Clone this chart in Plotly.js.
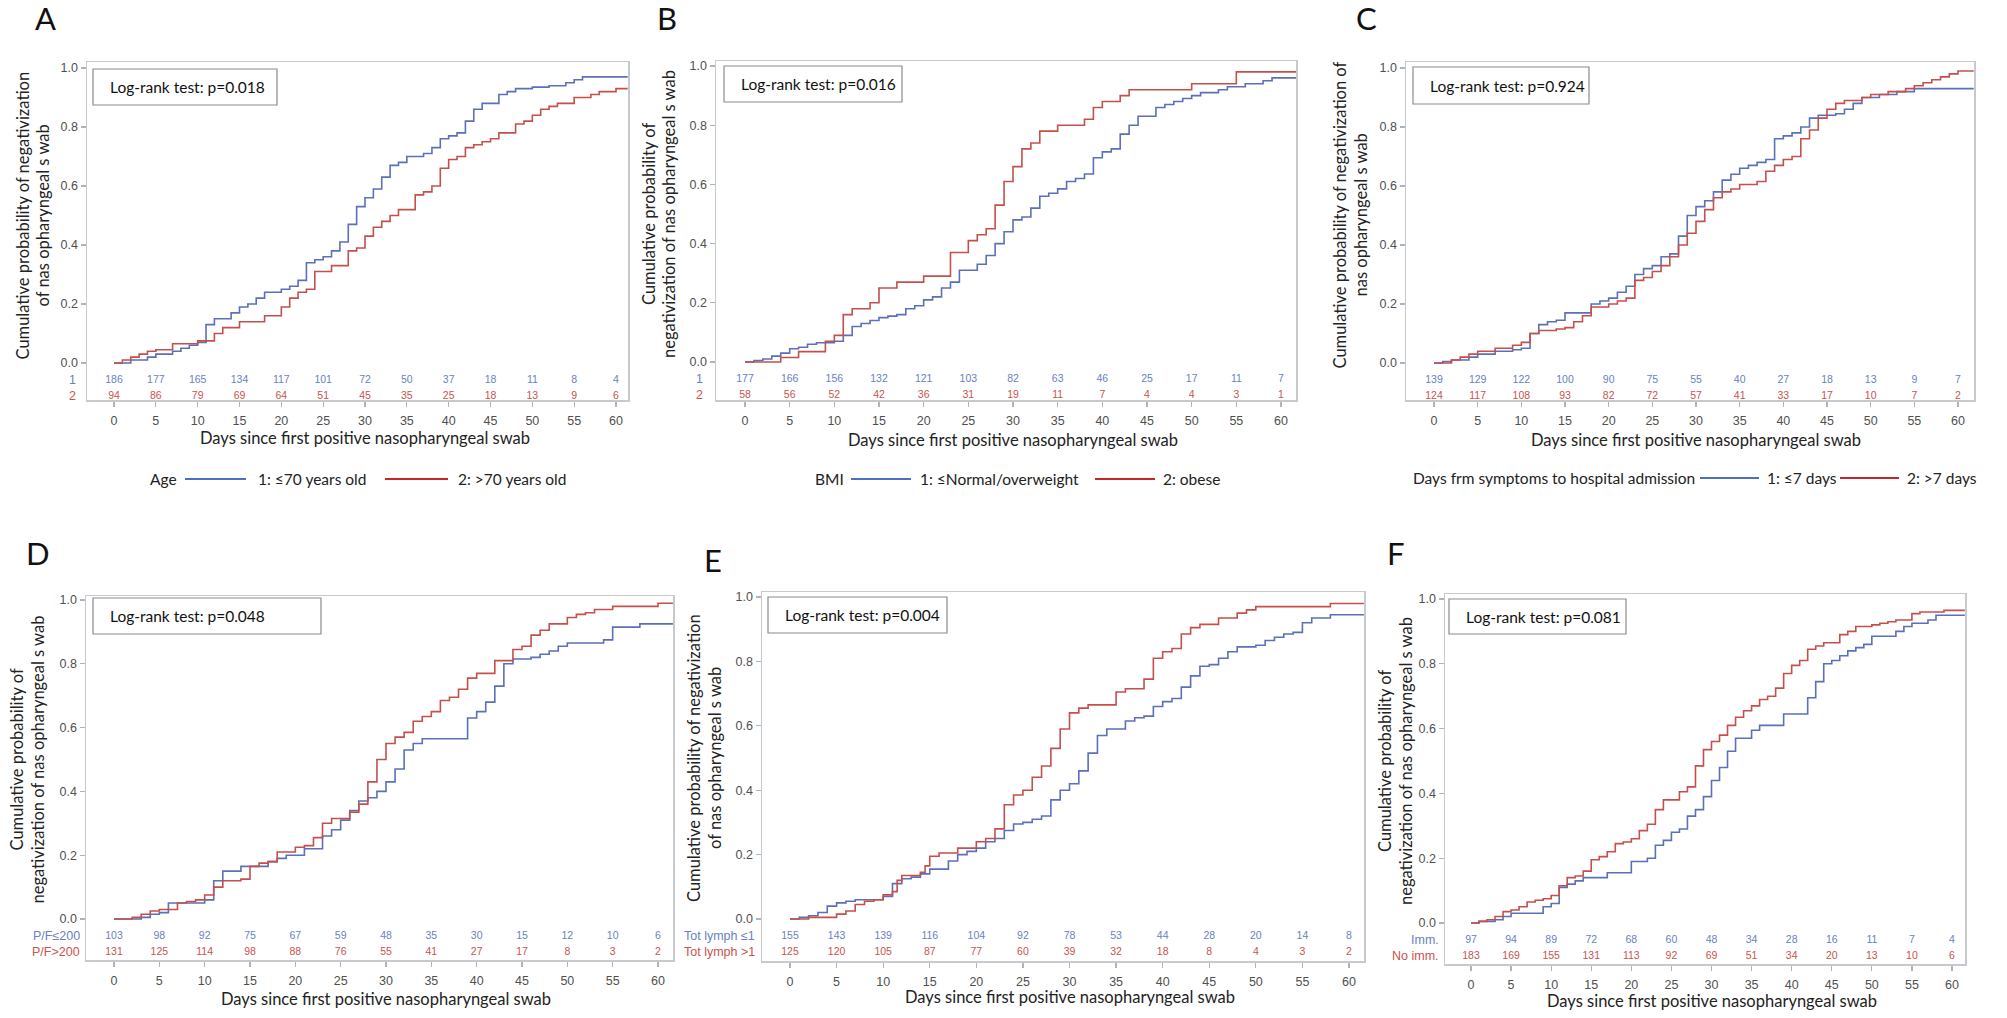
<!DOCTYPE html>
<html>
<head>
<meta charset="utf-8">
<script src="https://cdn.plot.ly/plotly-3.0.1.min.js"></script>
<style>html,body{margin:0;padding:0;background:#fff;}#chart{width:2007px;height:1018px;}</style>
</head>
<body>
<div id="chart"></div>
<script>
// ---------------- DATA ----------------
const dayTicks = [0,5,10,15,20,25,30,35,40,45,50,55,60];

// Panel A – Age
const aBlueT = [0,2,4,5,7,8,9,10,11,12,14,15,16,17,18,20,21,22,23,24,25,26,27,28,29,30,31,32,33,34,35,37,38,39,40,41,42,43,44,46,47,48,50,52,54,55,56,61.4];
const aBlueP = [0,0.01,0.02,0.03,0.04,0.05,0.06,0.07,0.13,0.15,0.17,0.19,0.20,0.22,0.24,0.25,0.26,0.28,0.34,0.35,0.36,0.38,0.41,0.47,0.53,0.56,0.59,0.63,0.67,0.68,0.70,0.71,0.73,0.76,0.77,0.78,0.82,0.86,0.88,0.91,0.92,0.93,0.935,0.94,0.95,0.96,0.97,0.97];
const aRedT = [0,1,2,3,4,5,7,10,12,13,15,18,20,21,22,23,24,26,28,29,30,31,32,33,34,36,37,38,39,40,41,42,43,44,45,46,48,49,50,51,52,53,55,57,58,60,61.4];
const aRedP = [0,0.01,0.02,0.03,0.04,0.045,0.065,0.075,0.10,0.12,0.14,0.16,0.19,0.22,0.24,0.25,0.31,0.33,0.38,0.39,0.43,0.46,0.48,0.50,0.52,0.57,0.58,0.60,0.66,0.69,0.70,0.73,0.74,0.75,0.76,0.78,0.81,0.82,0.84,0.86,0.87,0.88,0.90,0.91,0.92,0.93,0.93];
const aRisk1 = [186,177,165,134,117,101,72,50,37,18,11,8,4];
const aRisk2 = [94,86,79,69,64,51,45,35,25,18,13,9,6];

// Panel B – BMI
const bBlueT = [0,1,2,3,4,5,6,7,8,10,11,12,13,14,15,16,17,18,19,20,21,22,23,24,26,27,28,29,30,31,32,33,34,35,36,37,38,39,40,41,42,43,44,46,47,48,49,50,51,53,54,56,58,59,61.7];
const bBlueP = [0,0.005,0.01,0.02,0.03,0.045,0.05,0.06,0.065,0.07,0.09,0.12,0.13,0.14,0.15,0.155,0.16,0.18,0.19,0.21,0.22,0.25,0.27,0.31,0.33,0.36,0.40,0.44,0.48,0.49,0.52,0.56,0.57,0.585,0.61,0.62,0.635,0.69,0.71,0.72,0.77,0.80,0.83,0.86,0.87,0.88,0.89,0.90,0.91,0.92,0.93,0.94,0.95,0.96,0.96];
const bRedT = [0,4,6,9,10,11,12,14,15,17,20,23,25,26,27,28,29,30,31,32,33,35,38,39,40,42,43,50,55,61.7];
const bRedP = [0,0.015,0.035,0.07,0.09,0.16,0.18,0.20,0.25,0.27,0.29,0.37,0.41,0.43,0.45,0.53,0.61,0.66,0.72,0.74,0.78,0.80,0.82,0.86,0.88,0.90,0.92,0.94,0.98,0.98];
const bRisk1 = [177,166,156,132,121,103,82,63,46,25,17,11,7];
const bRisk2 = [58,56,52,42,36,31,19,11,7,4,4,3,1];

// Panel C – Days from symptoms to hospital admission
const cBlueT = [0,1,2,4,5,7,9,10,11,12,13,14,15,18,19,20,21,22,23,24,25,26,27,28,29,30,31,32,33,34,35,36,37,38,39,40,41,42,43,44,46,47,48,49,51,53,55,61.8];
const cBlueP = [0,0.005,0.01,0.02,0.03,0.04,0.045,0.05,0.10,0.13,0.14,0.145,0.17,0.20,0.21,0.22,0.24,0.26,0.30,0.32,0.33,0.36,0.37,0.43,0.50,0.53,0.55,0.58,0.62,0.64,0.66,0.67,0.68,0.69,0.76,0.77,0.78,0.80,0.83,0.84,0.845,0.86,0.88,0.90,0.91,0.92,0.93,0.93];
const cRedT = [0,2,3,4,5,7,9,10,11,12,14,15,16,17,18,20,21,22,23,24,25,26,27,28,29,30,31,32,33,34,35,37,38,39,40,41,42,43,44,45,46,47,49,50,52,54,55,56,57,58,59,60,61.8];
const cRedP = [0,0.01,0.02,0.03,0.04,0.05,0.06,0.07,0.10,0.11,0.115,0.12,0.14,0.16,0.19,0.20,0.21,0.22,0.28,0.29,0.31,0.33,0.36,0.40,0.44,0.48,0.52,0.56,0.58,0.59,0.605,0.615,0.65,0.67,0.69,0.70,0.76,0.79,0.83,0.86,0.88,0.89,0.90,0.91,0.92,0.93,0.94,0.95,0.96,0.97,0.98,0.99,0.99];
const cRisk1 = [139,129,122,100,90,75,55,40,27,18,13,9,7];
const cRisk2 = [124,117,108,93,82,72,57,41,33,17,10,7,2];

// Panel D – P/F
const dBlueT = [0,3,4,5,6,10,11,12,14,17,18,19,21,23,24,25,26,27,28,29,30,31,32,33,34,39,40,41,42,43,44,46,47,48,49,50,54,55,58,61.65];
const dBlueP = [0,0.005,0.015,0.02,0.05,0.06,0.12,0.15,0.165,0.18,0.19,0.20,0.22,0.26,0.28,0.31,0.34,0.37,0.38,0.40,0.43,0.47,0.53,0.55,0.565,0.63,0.65,0.68,0.73,0.80,0.815,0.82,0.83,0.84,0.855,0.865,0.875,0.915,0.925,0.925];
const dRedT = [0,2,3,4,5,7,8,9,10,11,12,14,15,16,17,18,20,21,22,23,24,26,27,28,29,30,31,32,33,34,35,36,37,38,39,40,42,44,45,46,47,48,50,51,52,53,55,60,61.65];
const dRedP = [0,0.005,0.015,0.025,0.03,0.05,0.055,0.06,0.075,0.10,0.12,0.125,0.165,0.175,0.18,0.21,0.225,0.23,0.255,0.30,0.315,0.335,0.36,0.43,0.50,0.55,0.57,0.585,0.62,0.635,0.65,0.685,0.695,0.72,0.755,0.77,0.81,0.845,0.855,0.89,0.905,0.925,0.945,0.955,0.96,0.97,0.98,0.99,0.99];
const dRisk1 = [103,98,92,75,67,59,48,35,30,15,12,10,6];
const dRisk2 = [131,125,114,98,88,76,55,41,27,17,8,3,2];

// Panel E – Total lymphocytes
const eBlueT = [0,1,2,3,4,5,6,7,10,11,12,13,14,15,17,18,19,20,21,22,23,24,25,26,27,28,29,30,31,32,33,34,36,37,38,39,40,41,42,43,44,45,46,47,48,50,51,52,53,54,55,56,58,61.6];
const eBlueP = [0,0.005,0.01,0.02,0.04,0.05,0.055,0.06,0.07,0.11,0.125,0.13,0.14,0.155,0.18,0.20,0.21,0.22,0.24,0.25,0.275,0.295,0.30,0.31,0.32,0.37,0.40,0.42,0.46,0.515,0.57,0.59,0.615,0.625,0.63,0.66,0.675,0.685,0.72,0.755,0.785,0.79,0.81,0.83,0.845,0.85,0.865,0.875,0.885,0.89,0.92,0.935,0.945,0.945];
const eRedT = [0,2,5,6,7,8,9,10,11,11.5,12,14,14.5,15,16,18,20,21,22,23,24,25,26,27,28,29,30,31,32,35,36,38,39,40,41,42,43,44,46,48,49,50,58,61.6];
const eRedP = [0,0.005,0.015,0.025,0.045,0.055,0.06,0.075,0.085,0.12,0.135,0.145,0.165,0.195,0.205,0.22,0.24,0.25,0.28,0.355,0.385,0.40,0.44,0.475,0.53,0.59,0.64,0.655,0.665,0.705,0.715,0.745,0.81,0.83,0.84,0.885,0.905,0.915,0.935,0.95,0.96,0.97,0.98,0.98];
const eRisk1 = [155,143,139,116,104,92,78,53,44,28,20,14,8];
const eRisk2 = [125,120,105,87,77,60,39,32,18,8,4,3,2];

// Panel F – Immunosuppression
const fBlueT = [0,1,3,4,5,9,10,11,12,13,14,17,20,22,23,24,25,26,27,28,29,30,31,32,33,35,36,39,42,43,44,45,46,47,48,49,50,53,54,55,57,58,61.6];
const fBlueP = [0,0.005,0.01,0.02,0.03,0.05,0.06,0.11,0.12,0.13,0.14,0.155,0.19,0.20,0.24,0.255,0.28,0.29,0.33,0.35,0.39,0.44,0.48,0.53,0.57,0.595,0.61,0.645,0.695,0.745,0.80,0.81,0.825,0.84,0.85,0.86,0.885,0.90,0.915,0.925,0.935,0.95,0.95];
const fRedT = [0,1,2,3,4,5,6,7,8,9,10,11,12,13,14,15,16,17,18,19,20,21,22,23,24,26,27,28,29,30,31,32,33,34,35,36,37,38,39,40,41,42,43,44,46,47,48,50,51,52,53,55,56,59,61.6];
const fRedP = [0,0.005,0.01,0.02,0.035,0.04,0.05,0.065,0.07,0.075,0.085,0.115,0.14,0.145,0.16,0.195,0.205,0.22,0.245,0.25,0.26,0.285,0.305,0.35,0.38,0.405,0.42,0.485,0.535,0.56,0.58,0.61,0.635,0.655,0.67,0.69,0.70,0.725,0.77,0.795,0.81,0.845,0.855,0.865,0.89,0.90,0.915,0.92,0.925,0.93,0.935,0.955,0.96,0.965,0.965];
const fRisk1 = [97,94,89,72,68,60,48,34,28,16,11,7,4];
const fRisk2 = [183,169,155,131,113,92,69,51,34,20,13,10,6];

// Text
const panelLetters = ['A','B','C','D','E','F'];
const pValues = ['Log-rank test: p=0.018','Log-rank test: p=0.016','Log-rank test: p=0.924','Log-rank test: p=0.048','Log-rank test: p=0.004','Log-rank test: p=0.081'];
const yTitles = [
  ['Cumulative probability of negativization','of nas opharyngeal s wab'],
  ['Cumulative probability of','negativization of nas opharyngeal s wab'],
  ['Cumulative probability of negativization of','nas opharyngeal s wab'],
  ['Cumulative probability of','negativization of nas opharyngeal s wab'],
  ['Cumulative probability of negativization','of nas opharyngeal s wab'],
  ['Cumulative probability of','negativization of nas opharyngeal s wab']
];
const xTitle = 'Days since first positive nasopharyngeal swab';
const rowLabels = [['1','2'],['1','2'],['',''],['P/F≤200','P/F>200'],['Tot lymph ≤1','Tot lymph >1'],['Imm.','No imm.']];
const legendTitles = ['Age','BMI','Days frm symptoms to hospital admission'];
const groupNames = [
  ['1: ≤70 years old','2: >70 years old'],
  ['1: ≤Normal/overweight','2: obese'],
  ['1: ≤7 days','2: >7 days']
];

// ---------------- LAYOUT GEOMETRY (pixels) ----------------
const W = 2007, H = 1018;
const BLUE = '#5b70b8', RED = '#c4504c';
const BLUE_T = '#6a7fc2', RED_T = '#c9534e';
const LEG_BLUE = '#4a72c4', LEG_RED = '#c62828';
const FONT = 'Lato, "Open Sans", sans-serif';
const TICKFONT = '"Liberation Sans", Arial, sans-serif';

const geo = [
  {f:[87,628,62,400],  x0:114, x60:616,  y0:363, y1:68,  letter:[45,18],   box:[93,277,69,105],   rowLab:78,   yT:[22,42],     xTy:438},
  {f:[716,1296,61,400],x0:745, x60:1281, y0:362, y1:66,  letter:[667,18],  box:[724,902,66,102],  rowLab:705,  yT:[649,669],   xTy:440},
  {f:[1406,1974,62,400],x0:1434,x60:1958,y0:363, y1:68,  letter:[1366,18], box:[1413,1589,67,104],rowLab:1400, yT:[1339,1360], xTy:440},
  {f:[86,673,596,960], x0:114, x60:658,  y0:919, y1:600, letter:[38,553],  box:[93,321,598,634],  rowLab:82,   yT:[16,37],     xTy:999},
  {f:[762,1364,592,961],x0:790,x60:1349, y0:919, y1:597, letter:[713,560], box:[768,947,597,633], rowLab:757,  yT:[694,715],   xTy:997},
  {f:[1445,1965,594,964],x0:1471,x60:1952,y0:923,y1:599, letter:[1396,553],box:[1449,1626,599,634],rowLab:1441, yT:[1385,1406], xTy:1001}
];
// legend geometry: [titleRight, line1Start, line1End, label1Left, line2Start, line2End, label2Left, y]
const legendGeo = [
  [179,185,246,256,385,448,456,479],
  [846,851,911,918,1095,1155,1161,479],
  [1697,1700,1759,1765,1840,1899,1905,478]
];

const curves = [
  [aBlueT,aBlueP,aRedT,aRedP,aRisk1,aRisk2],
  [bBlueT,bBlueP,bRedT,bRedP,bRisk1,bRisk2],
  [cBlueT,cBlueP,cRedT,cRedP,cRisk1,cRisk2],
  [dBlueT,dBlueP,dRedT,dRedP,dRisk1,dRisk2],
  [eBlueT,eBlueP,eRedT,eRedP,eRisk1,eRisk2],
  [fBlueT,fBlueP,fRedT,fRedP,fRisk1,fRisk2]
];

const px = p => p / W;
const py = p => (H - p) / H;

const data = [];
const layout = {
  width: W, height: H,
  margin: {l:0, r:0, t:0, b:0},
  paper_bgcolor: '#fff', plot_bgcolor: '#fff',
  showlegend: false,
  annotations: [], shapes: [],
  font: {family: FONT, color: '#222'}
};

geo.forEach((g, i) => {
  const n = i === 0 ? '' : String(i + 1);
  const xa = 'x' + n, ya = 'y' + n;
  const pxPerDay = (g.x60 - g.x0) / 60;
  const pxPerUnit = g.y0 - g.y1;
  const xr = [(g.f[0] - g.x0) / pxPerDay, (g.f[1] - g.x0) / pxPerDay];
  const yr = [(g.y0 - g.f[3]) / pxPerUnit, (g.y0 - g.f[2]) / pxPerUnit];
  const row1 = -17 / pxPerUnit, row2 = -33 / pxPerUnit;
  const [bt, bp, rt, rp, r1, r2] = curves[i];

  data.push({x: bt, y: bp, xaxis: xa, yaxis: ya, type: 'scatter', mode: 'lines',
    line: {shape: 'hv', color: BLUE, width: 1.6}, hoverinfo: 'skip',
    name: i < 3 ? groupNames[i][0] : rowLabels[i][0]});
  data.push({x: rt, y: rp, xaxis: xa, yaxis: ya, type: 'scatter', mode: 'lines',
    line: {shape: 'hv', color: RED, width: 1.6}, hoverinfo: 'skip',
    name: i < 3 ? groupNames[i][1] : rowLabels[i][1]});

  data.push({x: dayTicks, y: dayTicks.map(() => row1), text: r1.map(String), xaxis: xa, yaxis: ya,
    type: 'scatter', mode: 'text', textfont: {family: TICKFONT, size: 10.5, color: BLUE_T},
    hoverinfo: 'skip', cliponaxis: false});
  data.push({x: dayTicks, y: dayTicks.map(() => row2), text: r2.map(String), xaxis: xa, yaxis: ya,
    type: 'scatter', mode: 'text', textfont: {family: TICKFONT, size: 10.5, color: RED_T},
    hoverinfo: 'skip', cliponaxis: false});

  const axisLine = {showline: true, mirror: true, linecolor: '#c6cad0', linewidth: 1.5,
    showgrid: false, zeroline: false, ticks: 'outside', ticklen: 5, tickcolor: '#b0b4ba', tickwidth: 1.2,
    tickfont: {family: TICKFONT, size: 12.5, color: '#505050'}, fixedrange: true};
  layout['xaxis' + n] = Object.assign({}, axisLine, {
    domain: [px(g.f[0]), px(g.f[1])], range: xr, anchor: ya,
    tickmode: 'array', tickvals: dayTicks, ticktext: dayTicks.map(String), ticklabelstandoff: 3
  });
  layout['yaxis' + n] = Object.assign({}, axisLine, {
    domain: [py(g.f[3]), py(g.f[2])], range: yr, anchor: xa,
    tickmode: 'array', tickvals: [0,0.2,0.4,0.6,0.8,1.0], ticktext: ['0.0','0.2','0.4','0.6','0.8','1.0']
  });

  layout.annotations.push({text: panelLetters[i], xref: 'paper', yref: 'paper',
    x: px(g.letter[0]), y: py(g.letter[1]), xanchor: 'center', yanchor: 'middle', showarrow: false,
    font: {family: FONT, size: 31, color: '#111'}});
  layout.shapes.push({type: 'rect', xref: 'paper', yref: 'paper',
    x0: px(g.box[0]), x1: px(g.box[1]), y0: py(g.box[3]), y1: py(g.box[2]),
    line: {color: '#8c8c8c', width: 1.2}, fillcolor: 'rgba(255,255,255,0)'});
  layout.annotations.push({text: pValues[i], xref: 'paper', yref: 'paper',
    x: px(g.box[0] + 15), y: py((g.box[2] + g.box[3]) / 2), xanchor: 'left', yanchor: 'middle',
    showarrow: false, font: {family: FONT, size: 15.5, color: '#111'}});
  yTitles[i].forEach((line, k) => {
    layout.annotations.push({text: line, xref: 'paper', yref: ya, x: px(g.yT[k]), y: 0.5,
      xanchor: 'center', yanchor: 'middle', textangle: -90, showarrow: false,
      font: {family: FONT, size: 16.5, color: '#222'}});
  });
  layout.annotations.push({text: xTitle, xref: xa, yref: 'paper', x: 30, y: py(g.xTy),
    xanchor: 'center', yanchor: 'middle', showarrow: false,
    font: {family: FONT, size: 16.5, color: '#222'}});
  [[rowLabels[i][0], row1, BLUE_T], [rowLabels[i][1], row2, RED_T]].forEach(r => {
    if (!r[0]) return;
    layout.annotations.push({text: r[0], xref: 'paper', yref: ya, x: px(g.rowLab), y: r[1],
      xanchor: 'right', yanchor: 'middle', showarrow: false,
      font: {family: TICKFONT, size: 12.5, color: r[2]}});
  });
});

// hand-placed legends under the top row
legendGeo.forEach((L, i) => {
  const y = py(L[7]);
  const f = {family: FONT, size: 15.5, color: '#222'};
  layout.annotations.push({text: legendTitles[i], xref: 'paper', yref: 'paper', x: px(L[0]), y: y,
    xanchor: 'right', yanchor: 'middle', showarrow: false, font: f});
  layout.shapes.push({type: 'line', xref: 'paper', yref: 'paper', x0: px(L[1]), x1: px(L[2]), y0: y, y1: y,
    line: {color: LEG_BLUE, width: 2}});
  layout.annotations.push({text: groupNames[i][0], xref: 'paper', yref: 'paper', x: px(L[3]), y: y,
    xanchor: 'left', yanchor: 'middle', showarrow: false, font: f});
  layout.shapes.push({type: 'line', xref: 'paper', yref: 'paper', x0: px(L[4]), x1: px(L[5]), y0: y, y1: y,
    line: {color: LEG_RED, width: 2}});
  layout.annotations.push({text: groupNames[i][1], xref: 'paper', yref: 'paper', x: px(L[6]), y: y,
    xanchor: 'left', yanchor: 'middle', showarrow: false, font: f});
});

Plotly.newPlot('chart', data, layout, {staticPlot: true, displayModeBar: false});
</script>
</body>
</html>
